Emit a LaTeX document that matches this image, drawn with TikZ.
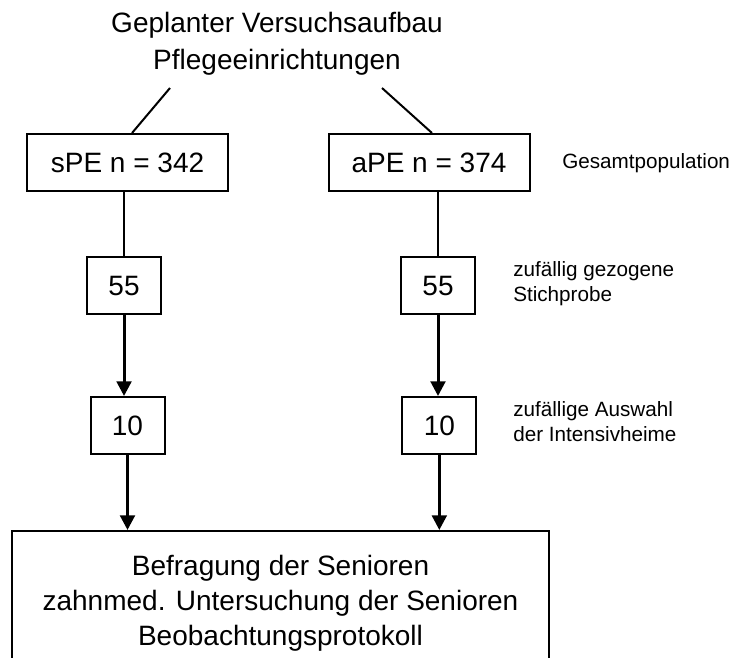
\documentclass[tikz,border=0pt]{standalone}
\usepackage{fontspec}
\setmainfont{Liberation Sans}
\usetikzlibrary{positioning,arrows.meta}

\begin{document}
\begin{tikzpicture}[x=0.75pt,y=-0.75pt,>={Triangle[length=11pt,width=11pt]},
  box/.style={draw,line width=1.5pt,inner sep=0pt,minimum height=42.75pt,font=\fontsize{21}{25}\selectfont},
  bigbox/.style={box,minimum width=150.75pt},
  smallbox/.style={box,minimum width=55.5pt},
  note/.style={anchor=west,align=left,inner sep=0pt,font=\fontsize{15.5}{18.75}\selectfont},
  link/.style={line width=1.5pt},
  arrow/.style={->,line width=2.25pt}]
  \useasboundingbox (0,0) rectangle (737,657);

  \node (title) at (277,43.5) [align=center,font=\fontsize{21}{27.75}\selectfont] {Geplanter Versuchsaufbau\\Pflegeeinrichtungen};
  \coordinate (title_l) at (170,88);
  \coordinate (title_r) at (382,88);

  \node (sPE) at (127.5,162.5) [bigbox] {sPE n = 342};
  \node (aPE) at (429,162.5) [bigbox] {aPE n = 374};
  \node (s55) [smallbox,below=48pt of sPE,xshift=-2.6pt] {55};
  \node (a55) [smallbox,below=48pt of aPE,xshift=6.75pt] {55};
  \node (s10) [smallbox,below=60.75pt of s55,xshift=2.6pt] {10};
  \node (a10) [smallbox,below=60.75pt of a55,xshift=1pt] {10};
  \node (survey) at (280.5,603) [box,minimum width=402.75pt,minimum height=108pt,align=center,font=\fontsize{21}{26.25}\selectfont]
    {Befragung der Senioren\\zahnmed. Untersuchung der Senioren\\Beobachtungsprotokoll};

  \node (gesamt) at (562,163) [note] {Gesamtpopulation};
  \node (stich) at (513,283.5) [note] {zufällig gezogene\\Stichprobe};
  \node (intens) at (513,421.5) [note] {zufällige Auswahl\\der Intensivheime};

  \draw[link] (title_l) -- ([xshift=3.4pt]sPE.north);
  \draw[link] (title_r) -- ([xshift=2.25pt]aPE.north);
  \draw[link] (s55.north |- sPE.south) -- (s55.north);
  \draw[link] (a55.north |- aPE.south) -- (a55.north);
  \draw[arrow] (s55.south) -- (s55.south |- s10.north);
  \draw[arrow] (a55.south) -- (a55.south |- a10.north);
  \draw[arrow] (s10.south) -- (s10.south |- survey.north);
  \draw[arrow] (a10.south) -- (a10.south |- survey.north);
\end{tikzpicture}
\end{document}
